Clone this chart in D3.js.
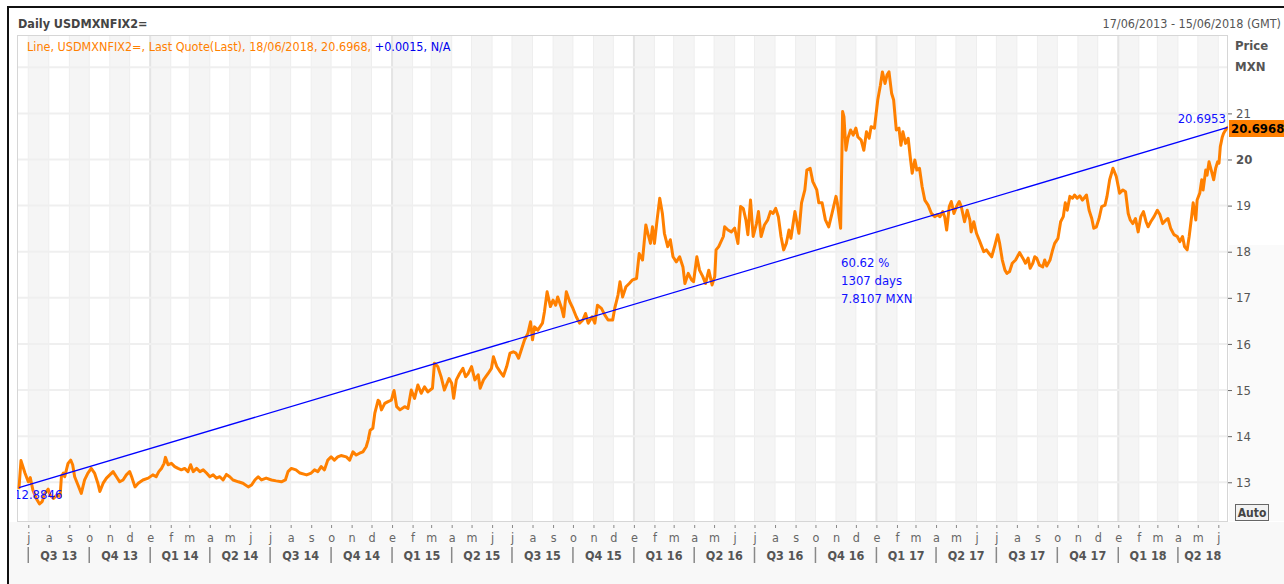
<!DOCTYPE html>
<html><head><meta charset="utf-8">
<script src="https://cdn.jsdelivr.net/npm/d3@7"></script>
<style>
body{margin:0;background:#fff}
svg{display:block}
text{font-family:"DejaVu Sans Condensed","Liberation Sans",Arial,sans-serif}
</style>
</head><body>
<svg id="chart" width="1284" height="584"></svg>
<script>
// ---------- DATA ----------
const rangeStart = "2013-06-17";
const rangeEnd = "2018-06-15";
const monthInitials = ["e","f","m","a","m","j","j","a","s","o","n","d"];
const yTickValues = [13,14,15,16,17,18,19,20,21];
const gridValues = [13,14,15,16,17,18,19,20,21,22];
const trendStartValue = 12.8846;
const trendEndValue = 20.6953;
const lastValue = 20.6968;
const trendStats = ["60.62 %","1307 days","7.8107 MXN"];
const priceSeries = [
["2013-06-17",12.88],["2013-06-20",13.47],["2013-06-26",13.2],["2013-07-01",13.01],["2013-07-04",13.1],["2013-07-08",12.83],["2013-07-13",12.65],["2013-07-18",12.53],["2013-07-22",12.58],["2013-07-26",12.76],["2013-07-31",12.85],["2013-08-03",12.72],["2013-08-08",12.65],["2013-08-13",12.72],["2013-08-18",12.69],["2013-08-20",13.12],["2013-08-23",13.2],["2013-08-25",13.12],["2013-08-30",13.41],["2013-09-03",13.48],["2013-09-06",13.38],["2013-09-09",13.12],["2013-09-14",12.94],["2013-09-19",12.76],["2013-09-24",13.05],["2013-09-29",13.2],["2013-10-04",13.3],["2013-10-09",13.2],["2013-10-14",12.98],["2013-10-17",12.8],["2013-10-22",12.98],["2013-10-27",13.09],["2013-11-01",13.16],["2013-11-06",13.23],["2013-11-11",13.12],["2013-11-16",13.01],["2013-11-21",13.05],["2013-11-26",13.16],["2013-12-01",13.23],["2013-12-04",13.12],["2013-12-09",12.9],["2013-12-14",12.98],["2013-12-21",13.05],["2013-12-29",13.09],
["2014-01-05",13.16],["2014-01-10",13.12],["2014-01-14",13.23],["2014-01-18",13.3],["2014-01-22",13.41],["2014-01-24",13.54],["2014-01-28",13.38],["2014-02-02",13.41],["2014-02-07",13.34],["2014-02-12",13.3],["2014-02-17",13.27],["2014-02-22",13.3],["2014-02-27",13.23],["2014-03-03",13.38],["2014-03-07",13.23],["2014-03-12",13.3],["2014-03-17",13.23],["2014-03-22",13.27],["2014-03-27",13.2],["2014-04-01",13.12],["2014-04-06",13.16],["2014-04-11",13.09],["2014-04-16",13.12],["2014-04-21",13.05],["2014-04-26",13.17],["2014-05-01",13.12],["2014-05-06",13.05],["2014-05-14",13.01],["2014-05-21",12.98],["2014-05-29",12.9],["2014-06-03",12.94],["2014-06-08",13.05],["2014-06-13",13.12],["2014-06-18",13.05],["2014-06-25",13.09],["2014-07-03",13.05],["2014-07-10",13.03],["2014-07-18",13.01],["2014-07-24",13.05],["2014-07-28",13.23],["2014-08-02",13.3],["2014-08-09",13.27],["2014-08-15",13.2],["2014-08-25",13.16],["2014-09-01",13.2],["2014-09-06",13.27],["2014-09-11",13.23],["2014-09-16",13.34],["2014-09-21",13.27],["2014-09-26",13.48],["2014-10-01",13.55],["2014-10-06",13.48],["2014-10-11",13.55],["2014-10-16",13.58],["2014-10-24",13.55],["2014-10-29",13.48],["2014-11-03",13.66],["2014-11-08",13.59],["2014-11-13",13.63],["2014-11-18",13.66],["2014-11-23",13.77],["2014-11-26",13.92],["2014-11-29",14.13],["2014-12-03",14.17],["2014-12-06",14.5],["2014-12-11",14.78],["2014-12-13",14.75],["2014-12-16",14.57],["2014-12-21",14.71],["2014-12-26",14.75],["2014-12-31",14.78],
["2015-01-04",14.99],["2015-01-08",14.64],["2015-01-13",14.57],["2015-01-20",14.64],["2015-01-25",14.6],["2015-01-30",15.0],["2015-02-04",14.82],["2015-02-09",15.11],["2015-02-14",14.93],["2015-02-19",15.07],["2015-02-24",14.96],["2015-03-03",15.04],["2015-03-06",15.58],["2015-03-11",15.51],["2015-03-16",15.29],["2015-03-21",15.0],["2015-03-28",15.25],["2015-04-01",15.15],["2015-04-04",14.82],["2015-04-08",15.22],["2015-04-13",15.36],["2015-04-18",15.47],["2015-04-22",15.29],["2015-04-26",15.36],["2015-05-01",15.51],["2015-05-06",15.22],["2015-05-11",15.33],["2015-05-14",15.04],["2015-05-19",15.22],["2015-05-26",15.36],["2015-05-31",15.47],["2015-06-03",15.72],["2015-06-08",15.51],["2015-06-13",15.4],["2015-06-18",15.3],["2015-06-23",15.51],["2015-06-28",15.8],["2015-07-03",15.83],["2015-07-07",15.8],["2015-07-11",15.69],["2015-07-15",15.87],["2015-07-20",16.09],["2015-07-25",16.23],["2015-07-29",16.48],["2015-08-01",16.09],["2015-08-04",16.37],["2015-08-09",16.3],["2015-08-16",16.45],["2015-08-19",16.7],["2015-08-23",17.13],["2015-08-28",16.81],["2015-09-01",16.95],["2015-09-05",16.84],["2015-09-08",17.02],["2015-09-14",16.77],["2015-09-17",16.59],["2015-09-21",17.13],["2015-09-26",16.92],["2015-10-01",16.77],["2015-10-06",16.59],["2015-10-11",16.45],["2015-10-16",16.52],["2015-10-20",16.66],["2015-10-24",16.45],["2015-10-30",16.59],["2015-11-03",16.45],["2015-11-07",16.84],["2015-11-13",16.77],["2015-11-18",16.63],["2015-11-23",16.52],["2015-11-30",16.52],["2015-12-03",16.77],["2015-12-08",17.06],["2015-12-11",17.35],["2015-12-15",17.02],["2015-12-20",17.24],["2015-12-25",17.31],["2015-12-30",17.39],
["2016-01-05",17.42],["2016-01-09",17.96],["2016-01-14",17.82],["2016-01-19",18.58],["2016-01-22",18.4],["2016-01-26",18.18],["2016-01-29",18.54],["2016-02-01",18.18],["2016-02-05",18.69],["2016-02-09",19.16],["2016-02-13",18.83],["2016-02-16",18.4],["2016-02-21",18.11],["2016-02-25",18.26],["2016-02-29",17.89],["2016-03-05",17.78],["2016-03-10",17.89],["2016-03-15",17.67],["2016-03-18",17.31],["2016-03-23",17.53],["2016-03-28",17.39],["2016-03-31",17.35],["2016-04-05",17.89],["2016-04-09",17.6],["2016-04-14",17.46],["2016-04-18",17.31],["2016-04-23",17.6],["2016-04-28",17.28],["2016-05-02",17.46],["2016-05-04",18.04],["2016-05-08",18.11],["2016-05-15",18.33],["2016-05-17",18.54],["2016-05-22",18.47],["2016-05-27",18.43],["2016-06-01",18.51],["2016-06-06",18.18],["2016-06-10",18.98],["2016-06-14",18.94],["2016-06-18",18.69],["2016-06-21",18.37],["2016-06-25",19.12],["2016-06-29",18.33],["2016-07-04",18.61],["2016-07-07",18.87],["2016-07-11",18.33],["2016-07-16",18.58],["2016-07-21",18.69],["2016-07-25",18.87],["2016-07-29",18.83],["2016-08-02",18.94],["2016-08-06",18.76],["2016-08-10",18.33],["2016-08-14",18.04],["2016-08-18",18.18],["2016-08-22",18.47],["2016-08-25",18.29],["2016-08-31",18.87],["2016-09-06",18.4],["2016-09-10",19.06],["2016-09-15",19.34],["2016-09-18",19.77],["2016-09-23",19.81],["2016-09-27",19.52],["2016-10-03",19.34],["2016-10-06",19.06],["2016-10-11",19.06],["2016-10-16",18.69],["2016-10-21",18.54],["2016-10-26",18.83],["2016-11-01",19.2],["2016-11-03",19.06],["2016-11-08",18.51],["2016-11-11",21.04],["2016-11-13",20.93],["2016-11-16",20.2],["2016-11-19",20.46],["2016-11-23",20.64],["2016-11-27",20.53],["2016-12-01",20.68],["2016-12-04",20.49],["2016-12-09",20.42],["2016-12-13",20.2],["2016-12-17",20.6],["2016-12-21",20.46],["2016-12-24",20.71],["2016-12-29",20.68],
["2017-01-03",21.29],["2017-01-07",21.61],["2017-01-10",21.9],["2017-01-14",21.65],["2017-01-17",21.83],["2017-01-20",21.9],["2017-01-24",21.43],["2017-01-27",21.29],["2017-01-31",20.64],["2017-02-04",20.68],["2017-02-07",20.31],["2017-02-10",20.6],["2017-02-14",20.35],["2017-02-18",20.46],["2017-02-21",20.06],["2017-02-24",19.7],["2017-02-28",19.99],["2017-03-03",19.77],["2017-03-07",19.81],["2017-03-11",19.41],["2017-03-15",19.12],["2017-03-20",19.01],["2017-03-25",18.83],["2017-03-30",18.76],["2017-04-03",18.8],["2017-04-07",18.76],["2017-04-11",18.87],["2017-04-14",18.76],["2017-04-17",18.47],["2017-04-21",18.98],["2017-04-24",19.09],["2017-04-28",18.83],["2017-05-02",18.98],["2017-05-06",19.09],["2017-05-09",18.98],["2017-05-14",18.65],["2017-05-18",18.9],["2017-05-22",18.69],["2017-05-24",18.43],["2017-05-28",18.65],["2017-06-01",18.4],["2017-06-05",18.26],["2017-06-09",18.11],["2017-06-12",18.0],["2017-06-16",18.04],["2017-06-20",17.96],["2017-06-24",17.89],["2017-06-29",18.15],["2017-07-03",18.37],["2017-07-06",18.18],["2017-07-10",17.82],["2017-07-14",17.6],["2017-07-17",17.53],["2017-07-21",17.57],["2017-07-25",17.75],["2017-07-30",17.82],["2017-08-05",17.98],["2017-08-10",17.86],["2017-08-14",17.75],["2017-08-18",17.86],["2017-08-21",17.64],["2017-08-25",17.75],["2017-08-28",17.89],["2017-08-31",17.86],["2017-09-04",17.71],["2017-09-09",17.67],["2017-09-12",17.82],["2017-09-15",17.69],["2017-09-20",17.82],["2017-09-24",18.04],["2017-09-27",18.18],["2017-10-02",18.29],["2017-10-06",18.65],["2017-10-10",18.76],["2017-10-13",19.06],["2017-10-16",18.9],["2017-10-20",19.2],["2017-10-24",19.16],["2017-10-27",19.23],["2017-10-31",19.16],["2017-11-04",19.21],["2017-11-08",19.12],["2017-11-14",19.23],["2017-11-18",18.9],["2017-11-22",18.72],["2017-11-25",18.51],["2017-11-29",18.54],["2017-12-03",18.72],["2017-12-07",18.98],["2017-12-12",19.01],["2017-12-15",19.2],["2017-12-19",19.56],["2017-12-24",19.81],["2017-12-29",19.63],
["2018-01-03",19.27],["2018-01-08",19.34],["2018-01-12",19.3],["2018-01-16",18.83],["2018-01-19",18.69],["2018-01-23",18.61],["2018-01-27",18.72],["2018-01-31",18.43],["2018-02-04",18.76],["2018-02-08",18.87],["2018-02-12",18.65],["2018-02-15",18.54],["2018-02-19",18.65],["2018-02-24",18.76],["2018-03-01",18.9],["2018-03-05",18.8],["2018-03-09",18.61],["2018-03-14",18.69],["2018-03-17",18.72],["2018-03-21",18.51],["2018-03-26",18.37],["2018-03-31",18.33],["2018-04-04",18.22],["2018-04-08",18.33],["2018-04-11",18.11],["2018-04-15",18.04],["2018-04-18",18.33],["2018-04-22",18.8],["2018-04-24",19.06],["2018-04-28",18.69],["2018-04-30",19.12],["2018-05-04",19.27],["2018-05-07",19.56],["2018-05-09",19.34],["2018-05-13",19.77],["2018-05-15",19.66],["2018-05-18",19.95],["2018-05-22",19.73],["2018-05-25",19.56],["2018-05-28",19.81],["2018-05-31",19.95],["2018-06-02",19.92],["2018-06-04",20.28],["2018-06-07",20.49],["2018-06-09",20.57],["2018-06-12",20.64],["2018-06-15",20.6968]
];

// ---------- LAYOUT ----------
const P = {l:17, r:1228, t:35, b:521};
const parse = d3.timeParse("%Y-%m-%d");
const d0 = parse(rangeStart), d1 = parse(rangeEnd);
const data = priceSeries.map(([d,v]) => ({date: parse(d), value: v}));

const x = d3.scaleTime().domain([d0, d1]).range([19, 1227.6]);
const y = d3.scaleLinear().domain([12.16, 22.70]).range([P.b, P.t]);

const svg = d3.select("#chart");
const FONT = '"DejaVu Sans Condensed","Liberation Sans",Arial,sans-serif';

// backgrounds
svg.append("rect").attr("x",0).attr("y",0).attr("width",1284).attr("height",584).attr("fill","#fff");
svg.append("rect").attr("x",P.r+1).attr("y",245).attr("width",1284-P.r).attr("height",P.b-245).attr("fill","#fafafa");
svg.append("rect").attr("x",9).attr("y",P.b+1).attr("width",1284).attr("height",584-P.b).attr("fill","#f8f8f8");

// frame
svg.append("rect").attr("x",7).attr("y",6).attr("width",1277).attr("height",2).attr("fill","#111");
svg.append("rect").attr("x",7).attr("y",6).attr("width",2).attr("height",578).attr("fill","#111");

// plot area
const plot = svg.append("g");
plot.append("rect").attr("x",P.l).attr("y",P.t).attr("width",P.r-P.l).attr("height",P.b-P.t).attr("fill","#fff");

const months = d3.timeMonth.range(d3.timeMonth.floor(d0), d3.timeMonth.offset(d1, 1));
const cx = v => Math.max(P.l, Math.min(P.r, v));
plot.selectAll("rect.stripe").data(months.filter(m => m.getMonth() % 2 === 0)).join("rect")
  .attr("class","stripe")
  .attr("x", m => cx(x(m)))
  .attr("width", m => cx(x(d3.timeMonth.offset(m,1))) - cx(x(m)))
  .attr("y", P.t).attr("height", P.b - P.t)
  .attr("fill", "#f5f5f5");

const monthTicks = months.filter(m => m >= d0 && m <= d1);
plot.selectAll("line.mline").data(monthTicks).join("line")
  .attr("x1", m => x(m)).attr("x2", m => x(m))
  .attr("y1", P.t).attr("y2", P.b)
  .attr("stroke", "#eeeeee").attr("stroke-width", 1);

plot.selectAll("line.yline").data(d3.timeYear.range(d0, d1)).join("line")
  .attr("x1", m => x(m)).attr("x2", m => x(m))
  .attr("y1", P.t).attr("y2", P.b)
  .attr("stroke", "#e4e4e4").attr("stroke-width", 2);

plot.selectAll("line.hgrid").data(gridValues).join("line")
  .attr("x1", P.l).attr("x2", P.r)
  .attr("y1", v => y(v)).attr("y2", v => y(v))
  .attr("stroke", "#efefef").attr("stroke-width", 2);

plot.append("rect").attr("x",P.l+0.5).attr("y",P.t+0.5).attr("width",P.r-P.l-1).attr("height",P.b-P.t)
  .attr("fill","none").attr("stroke","#d6d6d6").attr("stroke-width",1);

// clip
svg.append("clipPath").attr("id","clip").append("rect")
  .attr("x",P.l).attr("y",P.t).attr("width",P.r-P.l).attr("height",P.b-P.t);
const inner = svg.append("g").attr("clip-path","url(#clip)");

// price line
inner.append("path").datum(data)
  .attr("d", d3.line().x(d => x(d.date)).y(d => y(d.value)))
  .attr("fill","none").attr("stroke","#ff8000").attr("stroke-width",3)
  .attr("stroke-linejoin","round").attr("stroke-linecap","round");

// trend line
const trend = [{date:d0, value:trendStartValue},{date:d1, value:trendEndValue}];
inner.append("path").datum(trend)
  .attr("d", d3.line().x(d => x(d.date)).y(d => y(d.value)))
  .attr("fill","none").attr("stroke","#0000ff").attr("stroke-width",1.3);

inner.append("text").attr("x", 14).attr("y", y(trendStartValue) + 11)
  .attr("fill","#1010ff").attr("font-size",13).text(trendStartValue.toFixed(4));

svg.append("text").attr("x", P.r - 2).attr("y", y(trendEndValue) - 4)
  .attr("text-anchor","end").attr("fill","#1010ff").attr("font-size",13).text(trendEndValue.toFixed(4));

svg.append("g").selectAll("text").data(trendStats).join("text")
  .attr("x", 841).attr("y", (d,i) => 267 + i*18)
  .attr("fill","#1010ff").attr("font-size",13).text(d => d);

// y axis
const yAxis = d3.axisRight(y).tickValues(yTickValues).tickSize(4).tickPadding(4).tickFormat(d3.format("d"));
const ga = svg.append("g").attr("transform",`translate(${P.r},0)`).call(yAxis);
ga.select(".domain").remove();
ga.selectAll(".tick line").attr("stroke","#666");
ga.selectAll(".tick text").attr("fill","#555").attr("font-size",13)
  .attr("font-family",FONT)
  .attr("font-weight", d => d === 20 ? "bold" : "normal");

svg.append("text").attr("x",1235).attr("y",50).attr("font-weight","bold").attr("font-size",13).attr("fill","#555").text("Price");
svg.append("text").attr("x",1235).attr("y",71).attr("font-weight","bold").attr("font-size",13).attr("fill","#555").text("MXN");

// last value tag
svg.append("rect").attr("x",1229).attr("y",120).attr("width",55).attr("height",17).attr("fill","#ff8000");
svg.append("text").attr("x",1231).attr("y",133).attr("font-weight","bold").attr("font-size",13).attr("fill","#000").text(lastValue.toFixed(4));

// x axis: months
const xAxis = d3.axisBottom(x).tickValues(monthTicks).tickSize(3).tickPadding(5)
  .tickFormat(m => monthInitials[m.getMonth()]);
const gx = svg.append("g").attr("transform",`translate(0,${P.b+4})`).call(xAxis);
gx.select(".domain").remove();
gx.selectAll(".tick line").attr("stroke","#888");
gx.selectAll(".tick text").attr("fill","#666").attr("font-size",12.5)
  .attr("font-family",FONT);

// quarters
const quarters = d3.timeMonth.every(3).range(d3.timeMonth.floor(d0), d1)
  .filter(q => q.getMonth() % 3 === 0);
const qStarts = quarters.filter(q => q >= d0);
svg.append("g").selectAll("line").data(qStarts).join("line")
  .attr("x1", q => x(q)).attr("x2", q => x(q))
  .attr("y1", 547).attr("y2", 563).attr("stroke","#888").attr("stroke-width",1.5);
const qLabels = quarters.map(q => {
  const a = q < d0 ? d0 : q, b = d3.timeMonth.offset(q,3) > d1 ? d1 : d3.timeMonth.offset(q,3);
  return {q, a, b};
}).filter(o => (o.b - o.a) > 30*864e5);
svg.append("g").selectAll("text").data(qLabels).join("text")
  .attr("x", o => (x(o.a) + x(o.b))/2).attr("y", 560)
  .attr("text-anchor","middle").attr("font-weight","bold").attr("font-size",12.5).attr("fill","#555")
  .text(o => `Q${Math.floor(o.q.getMonth()/3)+1} ${String(o.q.getFullYear()).slice(2)}`);

// auto box
svg.append("rect").attr("x",1235.5).attr("y",504.5).attr("width",33).attr("height",16)
  .attr("fill","#f2f2f2").attr("stroke","#666");
svg.append("text").attr("x",1252).attr("y",517).attr("text-anchor","middle")
  .attr("font-weight","bold").attr("font-size",12).attr("fill","#444").text("Auto");

// header
svg.append("text").attr("x",18).attr("y",28).attr("font-weight","bold").attr("font-size",12.5).attr("fill","#444")
  .text("Daily USDMXNFIX2=");
svg.append("text").attr("x",1281).attr("y",28).attr("text-anchor","end").attr("font-size",12.5).attr("fill","#555")
  .text(`${d3.timeFormat("%d/%m/%Y")(d0)} - ${d3.timeFormat("%d/%m/%Y")(d1)} (GMT)`);
const sub = svg.append("text").attr("x",27).attr("y",51).attr("font-size",12.5);
sub.append("tspan").attr("fill","#ff8000").text(`Line, USDMXNFIX2=, Last Quote(Last), 18/06/2018, ${lastValue.toFixed(4)}, `);
sub.append("tspan").attr("fill","#0000ee").text("+0.0015, N/A");
</script>
</body></html>
